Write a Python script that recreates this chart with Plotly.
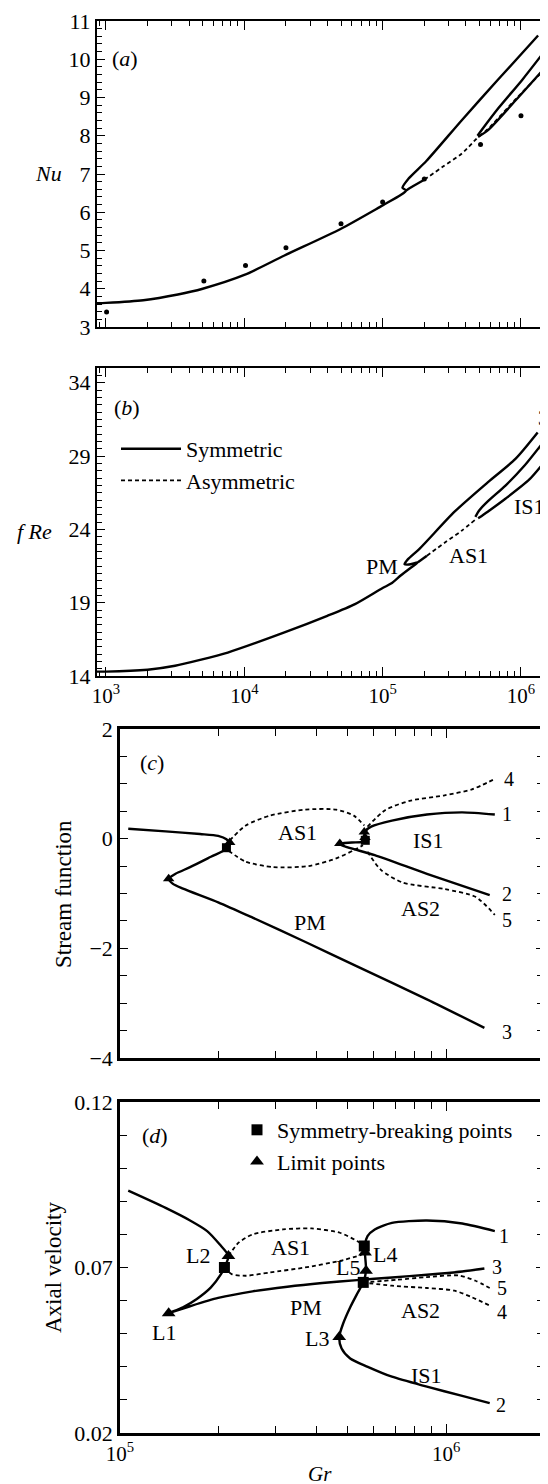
import math
import plotly.graph_objects as go

# ---------------- Panel (a): Nu vs Gr ----------------
a_sym_gr = [8.6e2, 1.0e3, 1.86e3, 3.31e3, 5.0e3, 1.0e4, 1.95e4, 5.0e4, 1.0e5, 1.35e5, 1.48e5, 1.39e5, 1.54e5, 2.07e5, 3.72e5, 6.76e5, 1.33e6]
a_sym_nu = [3.62, 3.63, 3.70, 3.85, 4.00, 4.36, 4.87, 5.57, 6.18, 6.45, 6.57, 6.64, 6.88, 7.34, 8.40, 9.45, 10.62]
a_pm_low_gr = [1.48e5, 1.62e5, 2.0e5]
a_pm_low_nu = [6.57, 6.66, 6.85]
a_as1_gr = [2.0e5, 2.75e5, 3.72e5, 4.9e5]
a_as1_nu = [6.85, 7.20, 7.53, 7.97]
a_is1_up_gr = [4.85e5, 5.2e5, 6.9e5, 1.02e6, 1.41e6]
a_is1_up_nu = [8.00, 8.15, 8.73, 9.46, 10.11]
a_is1_low_gr = [4.9e5, 5.75e5, 9.12e5, 1.45e6]
a_is1_low_nu = [7.97, 8.14, 8.92, 9.73]
a_as2_gr = [5.0e5, 5.75e5, 9.12e5, 1.45e6]
a_as2_nu = [7.99, 8.17, 8.95, 9.70]
a_exp_gr = [1.01e3, 5.1e3, 1.02e4, 2.0e4, 5.0e4, 1.0e5, 2.0e5, 5.1e5, 1.0e6]
a_exp_nu = [3.39, 4.20, 4.61, 5.07, 5.70, 6.27, 6.87, 7.77, 8.52]

# ---------------- Panel (b): fRe vs Gr ----------------
b_sym_gr = [8.6e2, 1.0e3, 2.0e3, 3.16e3, 4.79e3, 7.59e3, 1.95e4, 3.98e4, 6.31e4, 1.0e5, 1.15e5, 1.35e5, 1.58e5, 1.8e5,
            1.55e5, 1.44e5, 1.52e5, 1.86e5, 3.31e5, 5.75e5, 9.12e5, 1.32e6]
b_sym_fre = [14.3, 14.3, 14.43, 14.7, 15.1, 15.6, 16.97, 18.1, 18.9, 20.0, 20.3, 20.85, 21.35, 21.75,
             21.6, 21.62, 21.95, 22.7, 25.2, 27.2, 28.8, 30.6]
b_pm_low_gr = [1.8e5, 2.09e5]
b_pm_low_fre = [21.75, 22.2]
b_as1_gr = [2.09e5, 2.82e5, 3.72e5, 4.79e5]
b_as1_fre = [22.2, 23.1, 23.9, 24.74]
b_is1_up_gr = [4.68e5, 5.0e5, 5.75e5, 7.76e5, 1.05e6, 1.41e6]
b_is1_up_fre = [24.85, 25.3, 25.9, 27.0, 28.3, 29.8]
b_is1_low_gr = [4.9e5, 5.75e5, 7.76e5, 1.15e6, 1.48e6]
b_is1_low_fre = [24.75, 25.2, 26.1, 27.4, 28.6]

# ---------------- Panel (c): stream function ----------------
c_sym_gr = [1.06e5, 1.38e5, 1.76e5, 2.0e5, 2.12e5, 2.17e5, 2.13e5, 1.90e5, 1.64e5, 1.48e5, 1.41e5, 1.45e5, 1.56e5,
            2.0e5, 2.55e5, 3.69e5, 5.33e5, 8.73e5, 1.31e6]
c_sym_psi = [0.18, 0.133, 0.085, 0.05, -0.01, -0.09, -0.18, -0.33, -0.52, -0.64, -0.73, -0.82, -0.91,
             -1.16, -1.44, -1.88, -2.33, -2.93, -3.45]
c_as1_up_gr = [2.17e5, 2.43e5, 2.88e5, 3.69e5, 4.60e5, 5.21e5, 5.61e5]
c_as1_up_psi = [-0.03, 0.24, 0.42, 0.53, 0.53, 0.42, 0.24]
c_as1_low_gr = [2.15e5, 2.43e5, 2.95e5, 3.78e5, 4.60e5, 5.21e5, 5.56e5]
c_as1_low_psi = [-0.22, -0.42, -0.52, -0.50, -0.36, -0.21, -0.12]
c_is1_gr = [1.41e6, 1.12e6, 8.73e5, 6.82e5, 5.89e5, 5.68e5, 5.61e5, 5.61e5, 5.14e5, 4.72e5, 4.78e5, 6.04e5, 8.73e5, 1.36e6]
c_is1_psi = [0.44, 0.48, 0.44, 0.33, 0.22, 0.15, 0.06, -0.05, -0.07, -0.09, -0.12, -0.30, -0.64, -1.03]
c_as2_4_gr = [5.74e5, 6.50e5, 7.73e5, 9.89e5, 1.20e6, 1.41e6]
c_as2_4_psi = [0.22, 0.52, 0.69, 0.79, 0.90, 1.09]
c_as2_5_gr = [5.74e5, 6.31e5, 7.35e5, 9.89e5, 1.23e6, 1.41e6]
c_as2_5_psi = [-0.24, -0.57, -0.80, -0.92, -1.06, -1.39]
c_sb_gr = [2.12e5, 5.65e5]
c_sb_psi = [-0.165, -0.03]
c_lp_gr = [2.17e5, 1.41e5, 4.72e5, 5.61e5, 5.64e5]
c_lp_psi = [-0.07, -0.73, -0.09, 0.12, 0.02]

# ---------------- Panel (d): axial velocity ----------------
d_sym_gr = [1.06e5, 1.38e5, 1.64e5, 1.85e5, 2.02e5, 2.15e5, 2.09e5, 2.04e5, 1.90e5, 1.72e5, 1.56e5, 1.41e5,
            1.64e5, 2.0e5, 2.55e5, 3.26e5, 4.17e5, 5.33e5, 6.82e5, 8.73e5, 1.12e6, 1.31e6]
d_sym_v = [0.0932, 0.088, 0.0842, 0.081, 0.077, 0.0735, 0.070, 0.068, 0.064, 0.0605, 0.058, 0.0562,
           0.0583, 0.0608, 0.0628, 0.0642, 0.0653, 0.0662, 0.067, 0.0678, 0.0688, 0.0697]
d_as1_up_gr = [2.15e5, 2.31e5, 2.55e5, 3.16e5, 3.87e5, 4.72e5, 5.33e5, 5.61e5]
d_as1_up_v = [0.0735, 0.0775, 0.080, 0.0815, 0.0818, 0.0805, 0.078, 0.0765]
d_as1_low_gr = [2.09e5, 2.20e5, 2.43e5, 2.88e5, 3.69e5, 4.72e5, 5.50e5]
d_as1_low_v = [0.070, 0.068, 0.0675, 0.0685, 0.070, 0.072, 0.0738]
d_is1_gr = [1.41e6, 1.12e6, 8.73e5, 6.82e5, 6.04e5, 5.74e5, 5.64e5, 5.64e5, 5.68e5, 5.57e5, 5.33e5, 5.08e5, 4.83e5,
            4.70e5, 4.78e5, 5.08e5, 5.75e5, 6.82e5, 8.73e5, 1.12e6, 1.36e6]
d_is1_v = [0.081, 0.0833, 0.0842, 0.0835, 0.0815, 0.0795, 0.077, 0.074, 0.069, 0.0655, 0.062, 0.058, 0.053,
           0.049, 0.0455, 0.0425, 0.040, 0.037, 0.034, 0.0312, 0.029]
d_as2_5_gr = [5.57e5, 7.08e5, 8.71e5, 1.09e6, 1.23e6, 1.36e6]
d_as2_5_v = [0.0655, 0.0663, 0.0671, 0.0676, 0.066, 0.0638]
d_as2_4_gr = [5.53e5, 6.82e5, 8.73e5, 1.06e6, 1.20e6, 1.36e6]
d_as2_4_v = [0.0655, 0.0645, 0.0638, 0.063, 0.061, 0.0585]
d_sb_gr = [2.09e5, 5.61e5, 5.57e5]
d_sb_v = [0.070, 0.0765, 0.0655]
d_lp_gr = [1.41e5, 2.15e5, 4.70e5, 5.64e5, 5.68e5]
d_lp_v = [0.0562, 0.0735, 0.049, 0.0745, 0.069]

# tick labels
xtick_ab = [1e3, 1e4, 1e5, 1e6]
xtick_ab_text = ["10<sup>3</sup>", "10<sup>4</sup>", "10<sup>5</sup>", "10<sup>6</sup>"]
xtick_cd = [1e5, 1e6]
xtick_cd_text = ["10<sup>5</sup>", "10<sup>6</sup>"]

FONT = "Liberation Serif"
TXT = 22
NUM = 20
SOLID = dict(color="black", width=2.4, shape="spline", smoothing=0.7)
DASH = dict(color="black", width=1.8, dash="4px,3px", shape="spline", smoothing=0.7)

fig = go.Figure()


def line(x, y, ax, style, name=None, legend=None, show=False):
    fig.add_trace(go.Scatter(x=x, y=y, mode="lines", line=style, xaxis=ax[0], yaxis=ax[1],
                             name=name, showlegend=show, legend=legend, hoverinfo="skip"))


A = ("x", "y"); B = ("x2", "y2"); C = ("x3", "y3"); D = ("x4", "y4")

# (a)
line(a_sym_gr, a_sym_nu, A, SOLID)
line(a_pm_low_gr, a_pm_low_nu, A, SOLID)
line(a_as1_gr, a_as1_nu, A, DASH)
line(a_is1_up_gr, a_is1_up_nu, A, SOLID)
line(a_is1_low_gr, a_is1_low_nu, A, SOLID)
line(a_as2_gr, a_as2_nu, A, DASH)
fig.add_trace(go.Scatter(x=a_exp_gr, y=a_exp_nu, mode="markers", marker=dict(color="black", size=5),
                         xaxis="x", yaxis="y", showlegend=False, hoverinfo="skip"))

# (b)
line(b_sym_gr, b_sym_fre, B, SOLID, "Symmetric", "legend", True)
line(b_pm_low_gr, b_pm_low_fre, B, SOLID)
line(b_as1_gr, b_as1_fre, B, DASH, "Asymmetric", "legend", True)
line(b_is1_up_gr, b_is1_up_fre, B, SOLID)
line(b_is1_low_gr, b_is1_low_fre, B, SOLID)

# (c)
line(c_sym_gr, c_sym_psi, C, SOLID)
line(c_as1_up_gr, c_as1_up_psi, C, DASH)
line(c_as1_low_gr, c_as1_low_psi, C, DASH)
line(c_is1_gr, c_is1_psi, C, SOLID)
line(c_as2_4_gr, c_as2_4_psi, C, DASH)
line(c_as2_5_gr, c_as2_5_psi, C, DASH)
fig.add_trace(go.Scatter(x=c_sb_gr, y=c_sb_psi, mode="markers", marker=dict(symbol="square", color="black", size=9),
                         xaxis="x3", yaxis="y3", showlegend=False, hoverinfo="skip"))
fig.add_trace(go.Scatter(x=c_lp_gr, y=c_lp_psi, mode="markers", marker=dict(symbol="triangle-up", color="black", size=10),
                         xaxis="x3", yaxis="y3", showlegend=False, hoverinfo="skip"))

# (d)
line(d_sym_gr, d_sym_v, D, SOLID)
line(d_as1_up_gr, d_as1_up_v, D, DASH)
line(d_as1_low_gr, d_as1_low_v, D, DASH)
line(d_is1_gr, d_is1_v, D, SOLID)
line(d_as2_5_gr, d_as2_5_v, D, DASH)
line(d_as2_4_gr, d_as2_4_v, D, DASH)
fig.add_trace(go.Scatter(x=d_sb_gr, y=d_sb_v, mode="markers", marker=dict(symbol="square", color="black", size=11),
                         xaxis="x4", yaxis="y4", name="Symmetry-breaking points", legend="legend2", showlegend=True,
                         hoverinfo="skip"))
fig.add_trace(go.Scatter(x=d_lp_gr, y=d_lp_v, mode="markers", marker=dict(symbol="triangle-up", color="black", size=12),
                         xaxis="x4", yaxis="y4", name="Limit points", legend="legend2", showlegend=True,
                         hoverinfo="skip"))

# ---------------- axes ----------------
def minor_log(decades):
    return [m * 10 ** e for e in decades for m in range(2, 10)]


common_x = dict(type="log", showline=True, linecolor="black", linewidth=2, mirror="ticks", automargin=False,
                ticks="inside", ticklen=9, tickwidth=1.3, tickcolor="black", showgrid=False, zeroline=False,
                tickfont=dict(family=FONT, size=21, color="black"), tickmode="array")
common_y = dict(showline=True, linecolor="black", linewidth=2, mirror="ticks", ticks="inside", ticklen=8,
                automargin=False, tickwidth=1.3, tickcolor="black", showgrid=False, zeroline=False,
                tickfont=dict(family=FONT, size=22, color="black"), tickmode="array")

W = 548.0
H = 1484.0
xab_dom = [89 / W, 547 / W]
xcd_dom = [112 / W, 536 / W]


def ydom(top, bot):
    return [1 - bot / H, 1 - top / H]


fig.update_layout(
    template="none",
    xaxis=dict(common_x, domain=xab_dom, anchor="y", range=[2.935, 6.246], tickvals=xtick_ab, ticktext=xtick_ab_text,
               showticklabels=False,
               minor=dict(tickmode="array", tickvals=minor_log([2, 3, 4, 5, 6]), ticks="inside", ticklen=5, tickcolor="black")),
    yaxis=dict(common_y, domain=ydom(13, 319), anchor="x", range=[3, 11], tickvals=list(range(3, 12)),
               minor=dict(dtick=0.2, tick0=3, ticks="inside", ticklen=5, tickcolor="black")),
    xaxis2=dict(common_x, domain=xab_dom, anchor="y2", range=[2.935, 6.246], tickvals=xtick_ab, ticktext=xtick_ab_text,
                minor=dict(tickmode="array", tickvals=minor_log([2, 3, 4, 5, 6]), ticks="inside", ticklen=5, tickcolor="black")),
    yaxis2=dict(common_y, domain=ydom(360, 668), anchor="x2", range=[14, 35], tickvals=[14, 19, 24, 29, 34],
                minor=dict(dtick=0.5, tick0=14, ticks="inside", ticklen=5, tickcolor="black")),
    xaxis3=dict(common_x, domain=xcd_dom, anchor="y3", range=[5, 6.3], tickvals=xtick_cd, ticktext=xtick_cd_text,
                showticklabels=False, linewidth=2.5,
                minor=dict(tickmode="array", tickvals=minor_log([5]), ticks="inside", ticklen=7, tickcolor="black")),
    yaxis3=dict(common_y, domain=ydom(721, 1050), anchor="x3", range=[-4, 2], tickvals=[-4, -2, 0, 2],
                ticktext=["\u22124", "\u22122", "0", "2"], linewidth=2.5,
                minor=dict(dtick=0.5, tick0=-4, ticks="inside", ticklen=7, tickcolor="black")),
    xaxis4=dict(common_x, domain=xcd_dom, anchor="y4", range=[5, 6.3], tickvals=xtick_cd, ticktext=xtick_cd_text,
                linewidth=2.5,
                minor=dict(tickmode="array", tickvals=minor_log([5]), ticks="inside", ticklen=7, tickcolor="black")),
    yaxis4=dict(common_y, domain=ydom(1094, 1425), anchor="x4", range=[0.02, 0.12], tickvals=[0.02, 0.07, 0.12],
                ticktext=["0.02", "0.07", "0.12"], linewidth=2.5,
                minor=dict(dtick=0.01, tick0=0.02, ticks="inside", ticklen=7, tickcolor="black")),
    legend=dict(x=108 / W, y=1 - 420 / H, xanchor="left", yanchor="top", bgcolor="rgba(0,0,0,0)",
                font=dict(family=FONT, size=TXT, color="black"), itemwidth=60, tracegroupgap=0),
    legend2=dict(x=229 / W, y=1 - 1101 / H, xanchor="left", yanchor="top", bgcolor="rgba(0,0,0,0)",
                 font=dict(family=FONT, size=TXT, color="black"), itemwidth=30),
    width=548, height=1484, margin=dict(l=0, r=0, t=0, b=0),
    plot_bgcolor="white", paper_bgcolor="white", font=dict(family=FONT, color="black"),
)

# ---------------- text labels ----------------
labels = [
    ("x", "y", 1.38e3, 10.02, "(<i>a</i>)", TXT),
    ("x2", "y2", 1.42e3, 32.34, "(<i>b</i>)", TXT),
    ("x2", "y2", 1.44e6, 31.6, "3", NUM), ("x2", "y2", 1.46e6, 29.9, "2", NUM), ("x2", "y2", 1.46e6, 27.6, "1", NUM),
    ("x2", "y2", 1.15e6, 25.54, "IS1", TXT), ("x2", "y2", 0.99e5, 21.46, "PM", TXT), ("x2", "y2", 4.17e5, 22.25, "AS1", TXT),
    ("x3", "y3", 1.25e5, 1.39, "(<i>c</i>)", TXT), ("x3", "y3", 3.51e5, 0.12, "AS1", TXT), ("x3", "y3", 8.85e5, -0.03, "IS1", TXT),
    ("x3", "y3", 3.83e5, -1.52, "PM", TXT), ("x3", "y3", 8.32e5, -1.27, "AS2", TXT),
    ("x3", "y3", 1.56e6, 1.09, "4", NUM), ("x3", "y3", 1.54e6, 0.45, "1", NUM), ("x3", "y3", 1.54e6, -1.0, "2", NUM),
    ("x3", "y3", 1.54e6, -1.48, "5", NUM), ("x3", "y3", 1.54e6, -3.52, "3", NUM),
    ("x4", "y4", 1.28e5, 0.110, "(<i>d</i>)", TXT), ("x4", "y4", 1.74e5, 0.0735, "L2", TXT), ("x4", "y4", 3.34e5, 0.076, "AS1", TXT),
    ("x4", "y4", 6.5e5, 0.074, "L4", TXT), ("x4", "y4", 5.01e5, 0.070, "L5", TXT), ("x4", "y4", 3.73e5, 0.058, "PM", TXT),
    ("x4", "y4", 8.32e5, 0.057, "AS2", TXT), ("x4", "y4", 1.36e5, 0.0505, "L1", TXT), ("x4", "y4", 4.02e5, 0.0485, "L3", TXT),
    ("x4", "y4", 8.73e5, 0.0375, "IS1", TXT), ("x4", "y4", 1.50e6, 0.0795, "1", NUM), ("x4", "y4", 1.43e6, 0.0703, "3", NUM),
    ("x4", "y4", 1.48e6, 0.0638, "5", NUM), ("x4", "y4", 1.48e6, 0.0565, "4", NUM), ("x4", "y4", 1.47e6, 0.0285, "2", NUM),
]
for xr, yr, xv, yv, t, sz in labels:
    fig.add_annotation(xref=xr, yref=yr, x=math.log10(xv), y=yv, text=t, showarrow=False,
                       font=dict(family=FONT, size=sz, color="black"))

# axis titles
fig.add_annotation(xref="paper", yref="y", x=40 / W, y=7, text="<i>Nu</i>", showarrow=False, xanchor="center",
                   font=dict(family=FONT, size=TXT, color="black"))
fig.add_annotation(xref="paper", yref="y2", x=26 / W, y=23.84, text="<i>f Re</i>", showarrow=False, xanchor="center",
                   font=dict(family=FONT, size=TXT, color="black"))
fig.add_annotation(xref="paper", yref="paper", x=55 / W, y=1 - 886 / H, text="Stream function", textangle=-90,
                   showarrow=False, xanchor="center", yanchor="middle", font=dict(family=FONT, size=23, color="black"))
fig.add_annotation(xref="paper", yref="paper", x=45 / W, y=1 - 1260 / H, text="Axial velocity", textangle=-90,
                   showarrow=False, xanchor="center", yanchor="middle", font=dict(family=FONT, size=23, color="black"))
fig.add_annotation(xref="paper", yref="paper", x=312 / W, y=1 - 1466 / H, text="<i>Gr</i>", showarrow=False,
                   xanchor="center", yanchor="middle", font=dict(family=FONT, size=21, color="black"))

fig.write_html("out.html")
